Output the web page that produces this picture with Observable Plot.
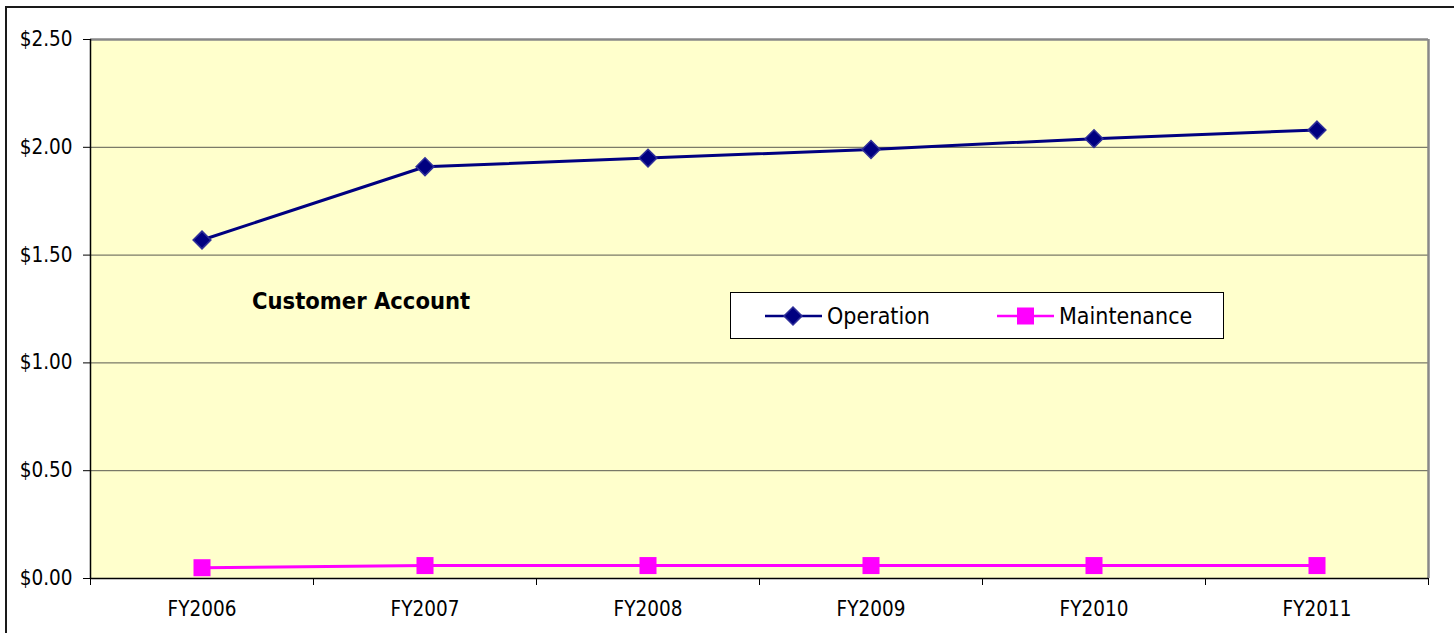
<!DOCTYPE html>
<html><head><meta charset="utf-8">
<script src="https://cdn.jsdelivr.net/npm/d3@7"></script>
<script src="https://cdn.jsdelivr.net/npm/@observablehq/plot@0.6"></script>
<style>
body{margin:0;background:#fff;}
#wrap{position:relative;width:1454px;height:633px;overflow:hidden;font-family:"DejaVu Sans Condensed","DejaVu Sans",sans-serif;}
#border{position:absolute;left:5px;top:6px;width:1470px;height:650px;border:2px solid #1a1a1a;box-sizing:border-box;}
#chart{position:absolute;left:0;top:0;}
#title{position:absolute;left:252px;top:287px;font-weight:bold;font-size:23.5px;color:#000;white-space:nowrap;}
#legend{position:absolute;left:730px;top:292px;width:494px;height:47px;border:1px solid #000;background:#fff;box-sizing:border-box;}
</style>
</head><body>
<div id="wrap"><div id="border"></div><div id="chart"></div><div id="title">Customer Account</div><div id="legend"></div></div>
<script>
const categories = ["FY2006","FY2007","FY2008","FY2009","FY2010","FY2011"];
const operation = [1.57,1.91,1.95,1.99,2.04,2.08];
const maintenance = [0.05,0.06,0.06,0.06,0.06,0.06];
const yTicks = [0,0.5,1,1.5,2,2.5];
const seriesNames = ["Operation","Maintenance"];
const seriesColors = ["#000080","#FF00FF"];

const opData = categories.map((c,i)=>({x:i+0.5, v:operation[i], cat:c}));
const mtData = categories.map((c,i)=>({x:i+0.5, v:maintenance[i], cat:c}));
const n = categories.length;

const chart = Plot.plot({
  width:1454, height:633,
  marginLeft:90, marginTop:39, marginRight:26, marginBottom:55,
  style:{fontFamily:'"DejaVu Sans Condensed","DejaVu Sans",sans-serif', fontSize:"20.5px", background:"transparent", color:"#000"},
  x:{type:"linear", domain:[0,n], axis:null},
  y:{domain:[0,2.5], axis:null},
  marks:[
    Plot.frame({fill:"#FFFFCC", stroke:null}),
    Plot.ruleY(yTicks.filter(t=>t>0 && t<2.5), {stroke:"#5a5a50", strokeWidth:1}),
    Plot.ruleY([2.5], {stroke:"#888", strokeWidth:2.5}),
    Plot.ruleX([n], {stroke:"#888", strokeWidth:2.5}),
    Plot.axisY({ticks:yTicks, tickFormat:d=>"$"+d.toFixed(2), tickSize:7, tickPadding:11, fontSize:20.5, label:null, stroke:"#000"}),
    Plot.axisX({ticks:d3.range(n+1), tickFormat:()=>"", tickSize:7, label:null, stroke:"#000"}),
    Plot.axisX({ticks:d3.range(n).map(i=>i+0.5), tickFormat:d=>categories[Math.round(d-0.5)], tickSize:0, tickPadding:23, fontSize:20.5, label:null}),
    Plot.ruleX([0], {stroke:"#000", strokeWidth:1.5}),
    Plot.ruleY([0], {stroke:"#000", strokeWidth:1.5}),
    Plot.line(opData, {x:"x", y:"v", stroke:seriesColors[0], strokeWidth:3}),
    Plot.dot(opData, {x:"x", y:"v", symbol:"diamond2", r:8, fill:seriesColors[0], stroke:"#2f2f99", strokeWidth:1.5}),
    Plot.line(mtData, {x:"x", y:"v", stroke:seriesColors[1], strokeWidth:3}),
    Plot.dot(mtData, {x:"x", y:"v", symbol:"square", r:9.6, fill:seriesColors[1]})
  ]
});
document.getElementById("chart").appendChild(chart);

// legend
const lg = d3.select("#legend").append("svg").attr("width",492).attr("height",45)
  .style("font-family",'"DejaVu Sans Condensed","DejaVu Sans",sans-serif');
const offs = [34, 266];
seriesNames.forEach((name,i)=>{
  const g = lg.append("g").attr("transform",`translate(${offs[i]},23)`);
  g.append("line").attr("x1",0).attr("x2",57).attr("stroke",seriesColors[i]).attr("stroke-width",2.5);
  if(i===0){
    g.append("path").attr("d","M28,-9L37,0L28,9L19,0Z").attr("fill",seriesColors[0]).attr("stroke","#2f2f99").attr("stroke-width",1.5);
  } else {
    g.append("rect").attr("x",20).attr("y",-8.5).attr("width",17).attr("height",17).attr("fill",seriesColors[1]);
  }
  g.append("text").attr("x",62).attr("y",0).attr("dy","0.35em").attr("font-size",23).text(name);
});
</script>
</body></html>
